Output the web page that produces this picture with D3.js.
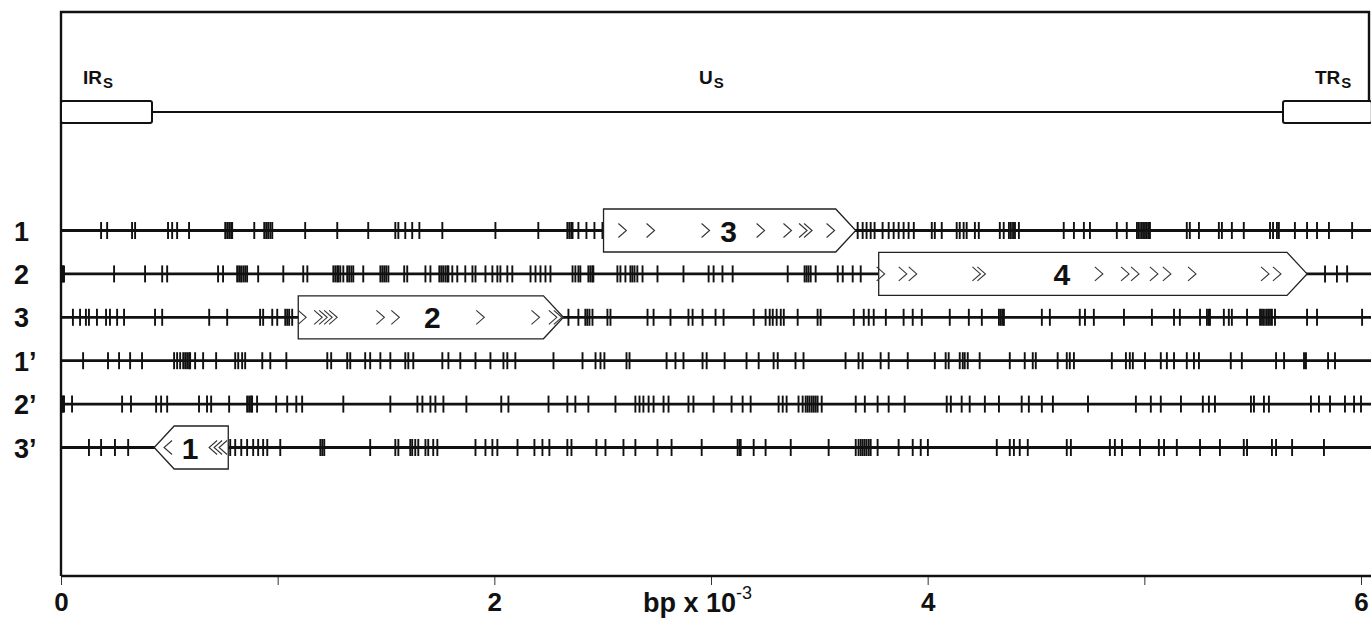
<!DOCTYPE html>
<html>
<head>
<meta charset="utf-8">
<script src="https://cdn.jsdelivr.net/npm/d3@7"></script>
<style>
  body { margin: 0; background: #fff; }
  svg { display: block; font-family: "Liberation Sans", Arial, sans-serif; }
</style>
</head>
<body>
<svg width="1371" height="618"></svg>
<script>
// Marcos de lectura (filas)
const marcos = ['1', '2', '3', '1’', '2’', '3’'];

// Codones de parada por marco, en pb
const paradas1 = [185, 213, 328, 342, 494, 513, 536, 591, 758, 767, 776, 785, 790, 892, 938, 947, 956, 966, 975, 1127, 1275, 1418, 1543, 1557, 1589, 1621, 1654, 1760, 2005, 2203, 2337, 2346, 2355, 2361, 2388, 2425, 2462, 2499, 3677, 3700, 3718, 3737, 3755, 3792, 3820, 3843, 3866, 3889, 3912, 3936, 4019, 4033, 4065, 4134, 4148, 4166, 4180, 4218, 4236, 4333, 4351, 4375, 4384, 4394, 4403, 4421, 4628, 4675, 4721, 4749, 4873, 4919, 4966, 4975, 4985, 4994, 5003, 5012, 5021, 5026, 5196, 5210, 5252, 5344, 5358, 5404, 5459, 5580, 5594, 5612, 5621, 5695, 5751, 5797, 5852, 5959];
const paradas2 = [0, 5, 10, 14, 245, 388, 467, 490, 725, 748, 813, 822, 831, 841, 850, 859, 910, 1026, 1118, 1137, 1257, 1266, 1275, 1280, 1289, 1303, 1321, 1330, 1340, 1349, 1395, 1474, 1483, 1492, 1501, 1511, 1584, 1598, 1682, 1705, 1746, 1755, 1764, 1774, 1783, 1788, 1806, 1829, 1866, 1899, 1913, 1959, 1991, 2014, 2028, 2060, 2083, 2167, 2190, 2213, 2236, 2259, 2361, 2374, 2388, 2397, 2434, 2443, 2452, 2457, 2568, 2582, 2605, 2628, 2637, 2647, 2660, 2684, 2753, 2873, 2989, 3012, 3053, 3100, 3354, 3432, 3441, 3450, 3460, 3483, 3585, 3608, 3654, 3691, 5834, 5889, 5936];
const paradas3 = [55, 88, 115, 129, 166, 208, 226, 259, 291, 434, 467, 684, 767, 919, 933, 975, 998, 1035, 1044, 1053, 1067, 2342, 2388, 2420, 2429, 2439, 2453, 2522, 2536, 2707, 2735, 2813, 2896, 2915, 2961, 3021, 3058, 3197, 3252, 3271, 3285, 3303, 3322, 3336, 3400, 3492, 3506, 3659, 3705, 3728, 3751, 3807, 3889, 3931, 3973, 4102, 4190, 4250, 4329, 4338, 4347, 4352, 4527, 4564, 4702, 4726, 4767, 4906, 5035, 5137, 5164, 5257, 5289, 5298, 5303, 5367, 5390, 5404, 5474, 5534, 5543, 5552, 5562, 5571, 5580, 5589, 5603, 5751, 5797, 6005];
const paradas1p = [102, 217, 268, 319, 374, 522, 536, 550, 564, 573, 582, 591, 596, 619, 656, 716, 804, 818, 836, 850, 929, 966, 1040, 1229, 1247, 1321, 1335, 1404, 1427, 1474, 1520, 1589, 1603, 1626, 1760, 1788, 1843, 1913, 1982, 2042, 2060, 2097, 2273, 2407, 2467, 2490, 2508, 2610, 2624, 2795, 2836, 2873, 2961, 2980, 3063, 3164, 3220, 3289, 3308, 3390, 3427, 3621, 3681, 3700, 3783, 3820, 3908, 4033, 4083, 4097, 4148, 4162, 4171, 4185, 4240, 4379, 4448, 4485, 4499, 4600, 4642, 4656, 4675, 4850, 4915, 4933, 4947, 5003, 5076, 5104, 5137, 5196, 5229, 5252, 5399, 5450, 5608, 5645, 5737, 5746, 5848, 5880];
const paradas2p = [0, 5, 10, 14, 51, 282, 323, 439, 462, 490, 637, 674, 693, 776, 859, 868, 877, 882, 905, 993, 1044, 1086, 1113, 1303, 1520, 1645, 1668, 1705, 1728, 1765, 1871, 2032, 2065, 2250, 2337, 2374, 2434, 2559, 2651, 2670, 2688, 2712, 2735, 2781, 2804, 2896, 2919, 3012, 3095, 3146, 3183, 3312, 3331, 3349, 3404, 3423, 3437, 3446, 3455, 3465, 3474, 3483, 3492, 3511, 3668, 3710, 3769, 3820, 3894, 4088, 4107, 4157, 4194, 4264, 4329, 4434, 4467, 4527, 4578, 4740, 4961, 5030, 5076, 5169, 5270, 5298, 5326, 5492, 5506, 5552, 5575, 5769, 5806, 5857, 5926, 5968, 6000];
const paradas3p = [129, 185, 249, 310, 781, 804, 832, 859, 887, 910, 933, 952, 1012, 1197, 1206, 1215, 1427, 1543, 1557, 1612, 1621, 1635, 1649, 1682, 1695, 1718, 1737, 1913, 1959, 1991, 2014, 2107, 2185, 2222, 2254, 2337, 2356, 2471, 2513, 2596, 2651, 2753, 2818, 2957, 3123, 3132, 3137, 3197, 3252, 3368, 3543, 3668, 3681, 3691, 3700, 3709, 3718, 3728, 3737, 3769, 3866, 3931, 3968, 4001, 4319, 4379, 4398, 4425, 4462, 4642, 4661, 4841, 4864, 4897, 4980, 5067, 5091, 5150, 5257, 5349, 5459, 5474, 5589, 5608, 5682, 5829];

// Marcos abiertos (ORF)
const orfNombre = ['1', '2', '3', '4'];
const orfMarco = ['3’', '3', '1', '2'];
const orfDesde = [430, 1095, 2504, 3774];
const orfHasta = [772, 2319, 3668, 5751];
const orfSentido = [-1, 1, 1, 1];
const orfEtiqueta = [596, 1714, 3081, 4619];
const chevrones1 = [494, 702, 725, 748];
const chevrones2 = [1113, 1187, 1210, 1233, 1256, 1474, 1543, 1935, 2190, 2270, 2293];
const chevrones3 = [2591, 2721, 2975, 3229, 3353, 3425, 3448, 3552];
const chevrones4 = [3783, 3885, 3931, 4225, 4248, 4790, 4911, 4957, 5044, 5104, 5220, 5557, 5612];

// Regiones del segmento S
const regiones = ['IR', 'U', 'TR'];
const regionDesde = [0, 420, 5640];
const regionHasta = [420, 5640, 6050];
const finGenoma = 6050;

// Eje
const ejeMarcas = [0, 1000, 2000, 3000, 4000, 5000, 6000];

const svg = d3.select('svg');
const ancho = +svg.attr('width');

const x = d3.scaleLinear()
    .domain([0, 6000])
    .range([61, 1361]);

const y = d3.scalePoint()
    .domain(marcos)
    .range([230.5, 447.5]);

const ejeY = 576;
const altoCaja = 21.5;
const punta = 20;

// Marco del dibujo
svg.append('path')
    .attr('d', `M${x(0)},${ejeY} L${x(0)},12 L1369,12 L1369,101`)
    .attr('fill', 'none')
    .attr('stroke', '#111')
    .attr('stroke-width', 2.4);

// Eje inferior
const grupoEje = svg.append('g')
    .attr('transform', `translate(0, ${ejeY})`)
    .call(d3.axisBottom(x)
        .tickValues(ejeMarcas)
        .tickFormat(d => d % 2000 === 0 ? d / 1000 : '')
        .tickSize(9)
        .tickSizeOuter(0)
        .tickPadding(8));

grupoEje.select('.domain').remove();
grupoEje.selectAll('.tick line').attr('stroke', '#333').attr('stroke-width', 1);
grupoEje.selectAll('.tick text')
    .attr('font-size', 26)
    .attr('font-weight', 'bold')
    .attr('font-family', '"Liberation Sans", Arial, sans-serif')
    .attr('fill', '#111');

svg.append('line')
    .attr('x1', x(0))
    .attr('x2', ancho)
    .attr('y1', ejeY)
    .attr('y2', ejeY)
    .attr('stroke', '#111')
    .attr('stroke-width', 2.4);

const titulo = svg.append('text')
    .attr('x', 643)
    .attr('y', 612)
    .attr('font-size', 27)
    .attr('font-weight', 'bold')
    .attr('fill', '#111')
    .text('bp x 10');
titulo.append('tspan')
    .attr('dy', -13)
    .attr('font-size', 18)
    .attr('font-weight', 'normal')
    .text('-3');

// Segmento S arriba: IRs, Us, TRs
const yRegion = 112;
svg.append('line')
    .attr('x1', x(regionDesde[1]))
    .attr('x2', x(regionHasta[1]))
    .attr('y1', yRegion)
    .attr('y2', yRegion)
    .attr('stroke', '#111')
    .attr('stroke-width', 2);

[0, 2].forEach(i => {
    svg.append('rect')
        .attr('x', x(regionDesde[i]))
        .attr('y', yRegion - 11)
        .attr('width', x(regionHasta[i]) - x(regionDesde[i]))
        .attr('height', 22)
        .attr('rx', 2)
        .attr('fill', '#fff')
        .attr('stroke', '#111')
        .attr('stroke-width', 2);
});

const etiquetaRegionX = [83, 699, 1315];
regiones.forEach((r, i) => {
    const t = svg.append('text')
        .attr('x', etiquetaRegionX[i])
        .attr('y', 84)
        .attr('font-size', 19)
        .attr('font-weight', 'bold')
        .attr('fill', '#111')
        .text(r);
    t.append('tspan')
        .attr('dy', 4)
        .attr('dx', 1)
        .attr('font-size', 15)
        .text('S');
});

// Filas
const paradas = [paradas1, paradas2, paradas3, paradas1p, paradas2p, paradas3p];
const tablaParadas = [];
marcos.forEach((m, i) => paradas[i].forEach(p => tablaParadas.push({ marco: m, pb: p })));

svg.selectAll('.etiqueta-marco')
    .data(marcos)
    .enter()
    .append('text')
        .attr('class', 'etiqueta-marco')
        .attr('x', 14)
        .attr('y', d => y(d) + 10)
        .attr('font-size', 27)
        .attr('font-weight', 'bold')
        .attr('fill', '#111')
        .text(d => d);

svg.selectAll('.linea-marco')
    .data(marcos)
    .enter()
    .append('line')
        .attr('class', 'linea-marco')
        .attr('x1', x(0))
        .attr('x2', x(finGenoma))
        .attr('y1', d => y(d))
        .attr('y2', d => y(d))
        .attr('stroke', '#111')
        .attr('stroke-width', 2.8);

svg.selectAll('.parada')
    .data(tablaParadas)
    .enter()
    .append('line')
        .attr('class', 'parada')
        .attr('x1', d => x(d.pb))
        .attr('x2', d => x(d.pb))
        .attr('y1', d => y(d.marco) - 8.5)
        .attr('y2', d => y(d.marco) + 8.5)
        .attr('stroke', '#111')
        .attr('stroke-width', 1.9);

// Cajas de los ORF
const chevrones = [chevrones1, chevrones2, chevrones3, chevrones4];
const orfs = orfNombre.map((n, i) => ({
    nombre: n, marco: orfMarco[i], desde: orfDesde[i], hasta: orfHasta[i],
    sentido: orfSentido[i], etiqueta: orfEtiqueta[i], chevrones: chevrones[i]
}));

function formaCaja(d) {
    const x0 = x(d.desde), x1 = x(d.hasta), yc = y(d.marco), h = altoCaja;
    if (d.sentido > 0) {
        return `M${x0},${yc - h} L${x1 - punta},${yc - h} L${x1},${yc} L${x1 - punta},${yc + h} L${x0},${yc + h} Z`;
    }
    return `M${x1},${yc - h} L${x0 + punta},${yc - h} L${x0},${yc} L${x0 + punta},${yc + h} L${x1},${yc + h} Z`;
}

const grupoOrf = svg.selectAll('.orf')
    .data(orfs)
    .enter()
    .append('g')
        .attr('class', 'orf');

grupoOrf.append('path')
    .attr('d', formaCaja)
    .attr('fill', '#fff')
    .attr('stroke', '#222')
    .attr('stroke-width', 1.3);

grupoOrf.append('text')
    .attr('x', d => x(d.etiqueta))
    .attr('y', d => y(d.marco) + 11)
    .attr('text-anchor', 'middle')
    .attr('font-size', 30)
    .attr('font-weight', 'bold')
    .attr('fill', '#111')
    .text(d => d.nombre);

grupoOrf.each(function (d) {
    const yc = y(d.marco);
    d3.select(this).selectAll('.chevron')
        .data(d.chevrones)
        .enter()
        .append('path')
            .attr('class', 'chevron')
            .attr('d', c => {
                const cx = x(c);
                return d.sentido > 0
                    ? `M${cx - 4},${yc - 7} L${cx + 4},${yc} L${cx - 4},${yc + 7}`
                    : `M${cx + 4},${yc - 7} L${cx - 4},${yc} L${cx + 4},${yc + 7}`;
            })
            .attr('fill', 'none')
            .attr('stroke', '#333')
            .attr('stroke-width', 1.1);
});
</script>
</body>
</html>
